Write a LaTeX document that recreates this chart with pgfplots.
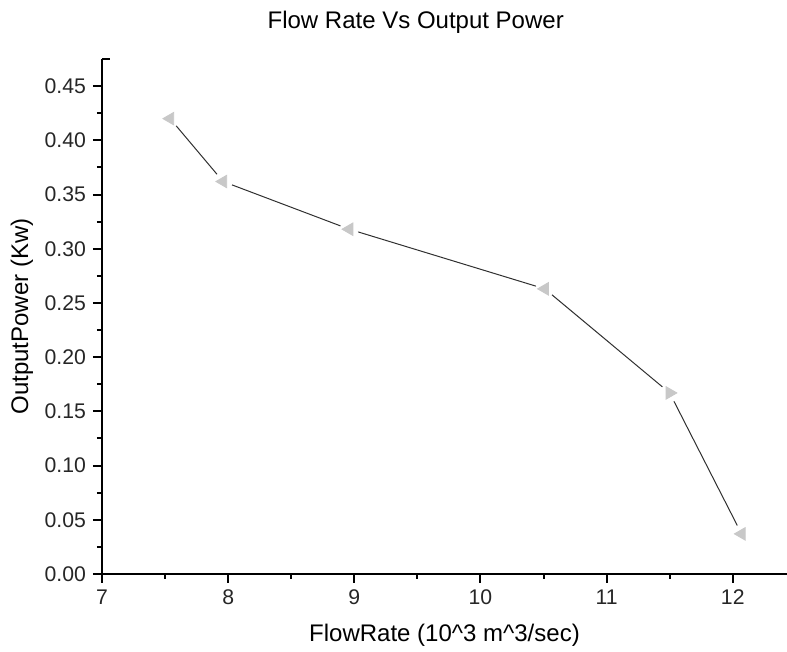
\documentclass[border=0pt]{standalone}
\usepackage{fontspec}
\setmainfont{Liberation Sans}
\usepackage{pgfplots}
\pgfplotsset{compat=1.18}
\definecolor{markgray}{HTML}{C8C8C8}
\definecolor{linegray}{HTML}{303030}

\begin{document}
\begin{tikzpicture}
  \useasboundingbox (-51pt,-39pt) rectangle (342.5pt,287pt);
  \begin{axis}[
    at={(0,0)}, anchor=south west,
    scale only axis,
    width=342.5pt, height=257.5pt,
    xmin=7, xmax=12.43,
    ymin=0, ymax=0.475,
    axis lines=left,
    axis line style={-, line width=1pt, black},
    tick align=outside,
    tick pos=left,
    xtick={7,8,...,12},
    ytick={0,0.05,...,0.45},
    minor x tick num=1,
    minor y tick num=1,
    major tick length=4.5pt,
    minor tick length=2.5pt,
    major tick style={line width=1pt, black},
    minor tick style={line width=1pt, black},
    extra y ticks={0.475},
    extra y tick labels={},
    extra y tick style={tick align=inside, major tick length=4pt},
    /pgf/number format/assume math mode=true,
    yticklabel style={/pgf/number format/.cd, fixed, fixed zerofill, precision=2},
    tick label style={font=\fontsize{10.6}{12}\selectfont, text=black!85},
    xlabel={FlowRate (10\^{}3 m\^{}3/sec)},
    ylabel={OutputPower (Kw)},
    label style={font=\fontsize{12}{14}\selectfont},
    xlabel style={at={(axis description cs:0.5,-0.1184)}, anchor=center},
    ylabel style={at={(axis description cs:-0.1168,0.5)}, anchor=center},
    every axis title shift=0pt,
    title={Flow Rate Vs Output Power},
    title style={at={(axis description cs:0.458,1.0718)}, anchor=center, yshift=0pt, font=\fontsize{12}{14}\selectfont},
    clip=false,
  ]
    % connecting line
    \addplot[linegray, line width=0.5pt, mark=none] coordinates {
      (7.54,0.420) (7.96,0.362) (8.96,0.318) (10.51,0.263) (11.50,0.167) (12.07,0.037)
    };
    % white gaps around the markers
    \addplot[white, only marks, mark=*, mark size=4.5pt] coordinates {
      (7.54,0.420) (7.96,0.362) (8.96,0.318) (10.51,0.263) (11.50,0.167) (12.07,0.037)
    };
    % left-pointing markers
    \addplot[markgray, only marks, mark=triangle*, mark size=3.6pt, mark options={rotate=90}] coordinates {
      (7.54,0.420) (7.96,0.362) (8.96,0.318) (10.51,0.263) (12.07,0.037)
    };
    % right-pointing marker
    \addplot[markgray, only marks, mark=triangle*, mark size=3.6pt, mark options={rotate=-90}] coordinates {
      (11.50,0.167)
    };
  \end{axis}
\end{tikzpicture}
\end{document}
